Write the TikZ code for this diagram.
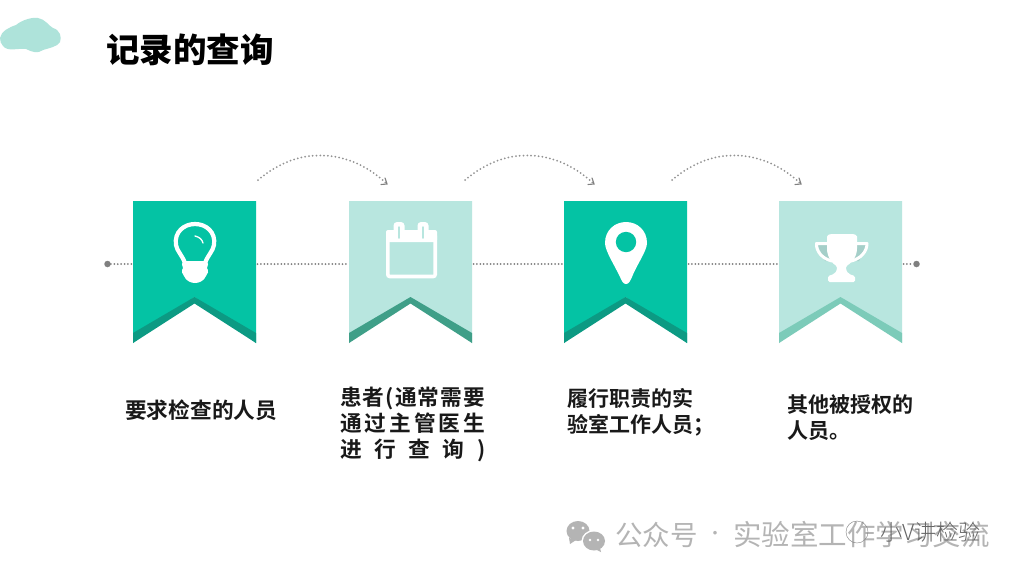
\documentclass[tikz,border=0pt]{standalone}
\usepackage{fontspec}
\usetikzlibrary{arrows.meta,calc}
\newfontfamily\cjkb{Noto Sans CJK SC Bold}
\newfontfamily\cjkk{Noto Sans CJK SC Black}
\newfontfamily\cjkr{Noto Sans CJK SC}
\newfontfamily\cjkl{Noto Sans CJK SC Light}
\definecolor{tealA}{HTML}{04C3A4}
\definecolor{tealAd}{HTML}{0C9A83}
\definecolor{tealB}{HTML}{B8E6DF}
\definecolor{tealBd}{HTML}{3F9F88}
\definecolor{tealCd}{HTML}{7CCBB9}
\definecolor{dotc}{HTML}{808080}
\definecolor{cloudc}{HTML}{AEE3DA}
\definecolor{wmc}{HTML}{B4B4B4}
\newcommand{\justline}[1]{\makebox[145pt][s]{#1}}
\tikzset{
  bannerbox/.style={minimum width=123pt,minimum height=142pt,inner sep=0pt,outer sep=0pt,anchor=north west},
  dotline/.style={dotc,line width=2pt,line cap=round,dash pattern=on 0pt off 3.4pt},
  arcline/.style={dotc!85,line width=2pt,line cap=round,dash pattern=on 0pt off 3.8pt},
  arctip/.style={dotc,line width=1.1pt,line cap=round},
  enddot/.style={circle,fill=dotc,minimum size=6.5pt,inner sep=0pt},
  bodytext/.style={anchor=north west,inner sep=0pt,font=\cjkb\fontsize{21.7}{26}\selectfont,align=left,text=black!90},
  bodysmall/.style={bodytext,font=\cjkb\fontsize{21}{26}\selectfont},
  icon/.style={fill=white,draw=none}
}
\newcommand{\banner}[4]{%
  % name, left x, main colour, band colour
  \node[bannerbox] (#1) at (#2,201) {};
  \coordinate (#1L) at ($(#1.north west)+(-1.5,63)$);
  \coordinate (#1R) at ($(#1.north east)+(1.5,63)$);
  \fill[#3] (#1.north west) -- (#1.north east) -- (#1.south east) -- ($(#1.north)+(0,96)$) -- (#1.south west) -- cycle;
  \fill[#4] (#1.south west) -- ($(#1.south west)+(0,-10)$) -- ($(#1.north)+(0,96)$) -- ($(#1.south east)+(0,-10)$) -- (#1.south east) -- ($(#1.north)+(0,102.5)$) -- cycle;
}
\begin{document}
\begin{tikzpicture}[x=1pt,y=-1pt]
\useasboundingbox (0,0) rectangle (1024,576);
\fill[white] (0,0) rectangle (1024,576);
% cloud
\fill[cloudc] (0,38) .. controls (1,31) and (10,27) .. (16,25) .. controls (22,20) and (32,17) .. (38,18)
 .. controls (45,19) and (49,26) .. (53,28) .. controls (60,30) and (62,37) .. (60,42)
 .. controls (57,47) and (49,48) .. (43,50) .. controls (38,54) and (32,52) .. (26,49)
 .. controls (17,48) and (8,52) .. (3,46) .. controls (1,44) and (0,41) .. (0,38) -- cycle;
\node[anchor=west,inner sep=0pt,font=\cjkk\fontsize{33.5}{40}\selectfont,text=black] (title) at (106,50) {记录的查询};
% banners
\banner{b1}{133}{tealA}{tealAd}
\banner{b2}{349}{tealB}{tealBd}
\banner{b3}{564}{tealA}{tealAd}
\banner{b4}{779}{tealB}{tealCd}
% timeline
\node[enddot] (d0) at (107.5,264) {};
\node[enddot] (d1) at (916.5,264) {};
\draw[dotline] (d0) -- (b1L);
\draw[dotline] (b1R) -- (b2L);
\draw[dotline] (b2R) -- (b3L);
\draw[dotline] (b3R) -- (b4L);
\draw[dotline] (b4R) -- (d1);
% arcs
\foreach \i/\x in {1/258,2/465,3/672}{
  \coordinate (as\i) at (\x,180);
  \coordinate (ae\i) at (\x+129,184);
  \draw[arcline] (as\i) .. controls (\x+24,160) and (\x+46,155) .. (\x+64,155.5)
     .. controls (\x+88,156) and (\x+110,166) .. (ae\i);
  \draw[arctip] ($(ae\i)+(-6,0.5)$) -- (ae\i) -- ($(ae\i)+(-2,-6)$);
}
% bulb
\begin{scope}[shift={(b1.north west)}]
 \draw[white,line width=4.2pt,line join=round] (52,62) .. controls (49,54) and (44,50) .. (43,44)
   .. controls (41,31) and (51,23) .. (62,23) .. controls (73,23) and (83,31) .. (81,44)
   .. controls (80,50) and (75,54) .. (72,62);
 \fill[icon] (51,60) -- (73,60) .. controls (76,62) and (75,65) .. (74,67) .. controls (76,70) and (75,73) .. (73,75)
   .. controls (71,80) and (66,82) .. (62,82) .. controls (58,82) and (53,80) .. (51,75)
   .. controls (49,73) and (48,70) .. (50,67) .. controls (49,65) and (48,62) .. (51,60) -- cycle;
 \draw[white,line width=1.3pt,line cap=round] (62,35) .. controls (66,36) and (69,38) .. (70,42);
\end{scope}
% calendar
\begin{scope}[shift={(b2.north west)}]
 \draw[white,line width=3.6pt,rounded corners=2pt] (38.8,33) rectangle (86.2,75.5);
 \fill[white,rounded corners=2pt] (37,29) rectangle (88,41);
 \foreach \cx in {50,74}{
   \fill[white,rounded corners=3.5pt] (\cx-5.5,21) rectangle (\cx+5.5,34);
   \draw[tealB,line width=1.5pt,line cap=round] (\cx,26) -- (\cx,37);
 }
\end{scope}
% pin
\begin{scope}[shift={(b3.north west)}]
 \fill[white] (62,83) .. controls (59,83) and (58,80) .. (56,76) .. controls (51,65) and (41,50) .. (41,42)
   .. controls (41,29) and (51,21) .. (62,21) .. controls (73,21) and (83,29) .. (83,42)
   .. controls (83,50) and (72,65) .. (68,76) .. controls (66,80) and (65,83) .. (62,83) -- cycle;
 \fill[tealA] (62,41) circle[radius=10.2pt];
\end{scope}
% trophy
\begin{scope}[shift={(b4.north west)}]
 \fill[black!10!tealB] (38,43) -- (88,43) -- (80,60) -- (46,60) -- cycle;
 \draw[white,line width=3pt,line join=round,line cap=round] (50,42.5) -- (37.5,42.5) .. controls (37,51) and (44,58) .. (53,60);
 \draw[white,line width=3pt,line join=round,line cap=round] (76,42.5) -- (88,42.5) .. controls (88,51) and (81,58) .. (72,60);
 \fill[icon,rounded corners=1.5pt] (48,37) .. controls (48,34) and (51,33) .. (54,33) -- (72,33) .. controls (75,33) and (78,34) .. (78,37)
   -- (78,46) .. controls (78,57) and (71,63) .. (67,65) .. controls (67,70) and (69,73) .. (73,74)
   -- (76,75) -- (76,81) -- (49,81) -- (49,75) -- (52,74) .. controls (56,73) and (58,70) .. (58,65)
   .. controls (54,63) and (48,57) .. (48,46) -- cycle;
\end{scope}
% captions
\node[bodytext] (t1) at (125,400) {要求检查的人员};
\node[bodytext,inner sep=0pt] (t2) at (340,386.5) {%
  \begin{minipage}[t]{145pt}\baselineskip=26pt
  \justline{患\hfil 者\hfil (\hfil 通\hfil 常\hfil 需\hfil 要}\\
  \justline{通\hfil 过\hfil 主\hfil 管\hfil 医\hfil 生}\\
  \justline{进\hfil 行\hfil 查\hfil 询\hfil )}
  \end{minipage}};
\node[bodysmall] (t3) at (567,388) {履行职责的实\\验室工作人员；};
\node[bodysmall] (t4) at (787,394) {其他被授权的\\人员。};
% watermark
\fill[wmc] (578,531) ellipse[x radius=11.5,y radius=10];
\fill[wmc] (569,538) -- (570,544) -- (576,540) -- cycle;
\fill[white] (594,541) ellipse[x radius=12.5,y radius=11];
\fill[wmc] (594,541) ellipse[x radius=11,y radius=9.5];
\fill[wmc] (600,548) -- (601,552) -- (595,549) -- cycle;
\fill[white] (573,528) circle[radius=1.6] (583,528) circle[radius=1.6] (590,540) circle[radius=1.4] (598,540) circle[radius=1.4];
\node[anchor=west,inner sep=0pt,font=\cjkr\fontsize{27.5}{32}\selectfont,text=wmc] (wm1) at (615,535) {公众号};
\node[inner sep=0pt,font=\cjkb\fontsize{14}{16}\selectfont,text=wmc] (wm2) at (715,535) {·};
\node[anchor=west,inner sep=0pt,font=\cjkr\fontsize{28.5}{32}\selectfont,text=wmc] (wm3) at (733,535) {实验室工作学习交流};
\node[anchor=west,inner sep=0pt,font=\cjkl\fontsize{22}{26}\selectfont,text=black!60] (wm4) at (880,532) {小V讲检验};
\draw[black!50,line width=.4pt] (857,532) circle[radius=11];
\end{tikzpicture}
\end{document}
